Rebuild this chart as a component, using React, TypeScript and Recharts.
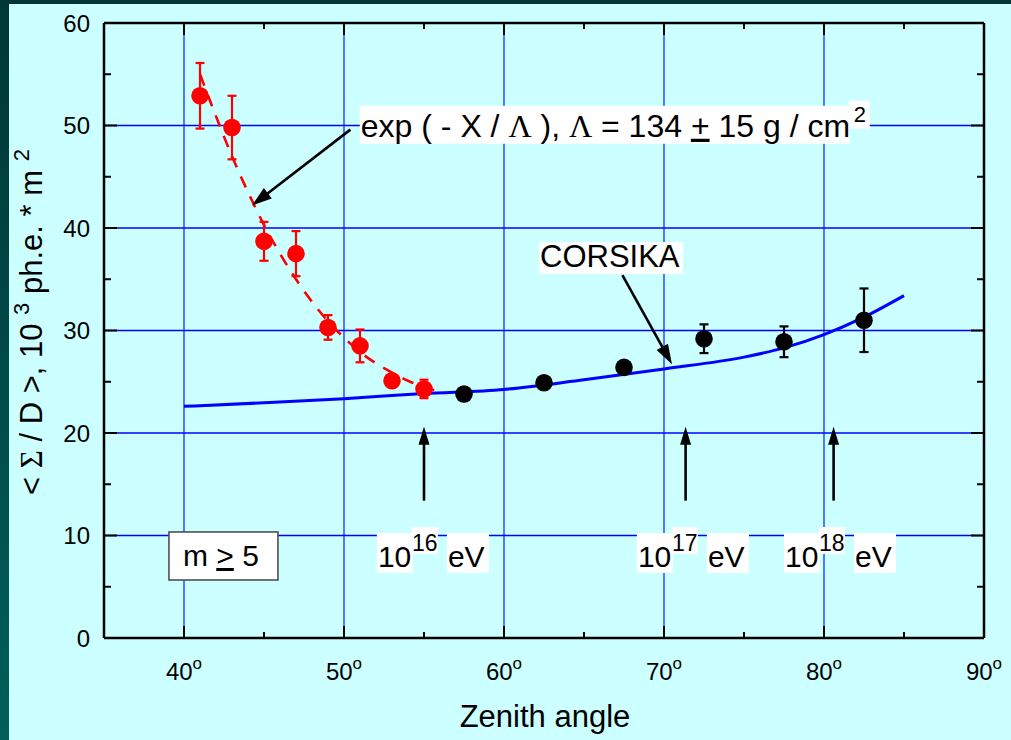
import React from 'react';
import {
  ComposedChart,
  XAxis,
  YAxis,
  Scatter,
  Line,
  ErrorBar,
  ReferenceLine,
  ReferenceDot,
} from 'recharts';

const FONT = '"Liberation Sans", Arial, Helvetica, sans-serif';
const SERIF = '"Liberation Serif", "Times New Roman", serif';

// ---- axes ----
const xTicks = [40, 45, 50, 55, 60, 65, 70, 75, 80, 85, 90];
const yTicks = [0, 5, 10, 15, 20, 25, 30, 35, 40, 45, 50, 55, 60];
const xGrid = [40, 50, 60, 70, 80];
const yGrid = [10, 20, 30, 40, 50];

// ---- measured data (red: exponential region) ----
const redX = [41, 43, 45, 47, 49, 51, 53, 55];
const redY = [52.9, 49.8, 38.7, 37.5, 30.3, 28.5, 25.1, 24.3];
const redErr = [3.2, 3.1, 1.9, 2.2, 1.2, 1.6, 0.5, 0.9];

// ---- measured data (black) ----
const blackX = [57.5, 62.5, 67.5, 72.5, 77.5, 82.5];
const blackY = [23.8, 24.9, 26.4, 29.2, 28.9, 31.0];
const blackErr = [0.3, 0.3, 0.4, 1.4, 1.5, 3.1];

// ---- exp(-X/Λ) fit (dashed) ----
const fitX = [41, 42, 43, 44, 45, 46, 47, 48, 49, 50, 51, 52, 53, 54, 55, 56];
const fitY = [55.0, 50.9, 47.0, 43.5, 40.3, 37.5, 35.0, 32.8, 30.9, 29.3, 27.9, 26.8, 25.9, 25.1, 24.5, 24.0];

// ---- CORSIKA curve ----
const corsX = [40, 45, 50, 55, 60, 65, 70, 75, 77.5, 80, 82.5, 85];
const corsY = [22.6, 22.95, 23.35, 23.85, 24.25, 25.2, 26.25, 27.4, 28.3, 29.6, 31.3, 33.4];

// ---- annotations (data coordinates) ----
const fitArrow = [{ x: 50.4, y: 49.6 }, { x: 44.25, y: 42.2 }];
const corsikaArrow = [{ x: 67.4, y: 35.4 }, { x: 70.5, y: 26.7 }];
const energyArrowX = [55.0, 71.35, 80.6];
const energyArrowY = [13.4, 20.6];
const energyLabelX = [52.12, 68.37, 77.56];
const energyLabelExp = ['16', '17', '18'];
const energyLabelY = 6.93;
const fitLabelPos = { x: 51.05, y: 48.9 };
const corsikaLabelPos = { x: 62.25, y: 36.2 };
const cutLabelPos = { x: 39.06, y: 5.66 };

const redData = redX.map((x, i) => ({ x, y: redY[i], err: redErr[i] }));
const blackData = blackX.map((x, i) => ({ x, y: blackY[i], err: blackErr[i] }));
const fitData = fitX.map((x, i) => ({ x, y: fitY[i] }));
const corsData = corsX.map((x, i) => ({ x, y: corsY[i] }));

const BottomTick = (props: any) => {
  const { x, y, payload } = props;
  const v = payload.value;
  const major = v % 10 === 0;
  return (
    <g>
      <line x1={x} x2={x} y1={y} y2={y - (major ? 12 : 6)} stroke="#000" strokeWidth={2} />
      {major && (
        <text x={x} y={y + 42} textAnchor="middle" fontSize={24} fontFamily={FONT} fill="#000">
          {v}
          <tspan dy={-11} fontSize={17}>o</tspan>
        </text>
      )}
    </g>
  );
};

const TopTick = (props: any) => {
  const { x, y, payload } = props;
  const major = payload.value % 10 === 0;
  return <line x1={x} x2={x} y1={y} y2={y + (major ? 12 : 6)} stroke="#000" strokeWidth={2} />;
};

const LeftTick = (props: any) => {
  const { x, y, payload } = props;
  const v = payload.value;
  const major = v % 10 === 0;
  return (
    <g>
      <line x1={x} x2={x + (major ? 13 : 7)} y1={y} y2={y} stroke="#000" strokeWidth={2} />
      {major && (
        <text x={x - 14} y={y + 8.5} textAnchor="end" fontSize={24} fontFamily={FONT} fill="#000">
          {v}
        </text>
      )}
    </g>
  );
};

const RightTick = (props: any) => {
  const { x, y, payload } = props;
  const major = payload.value % 10 === 0;
  return <line x1={x} x2={x - (major ? 13 : 7)} y1={y} y2={y} stroke="#000" strokeWidth={2} />;
};

const arrowShape = (head: number, half: number) => (p: any) => {
  const { x1, y1, x2, y2 } = p;
  const dx = x2 - x1;
  const dy = y2 - y1;
  const len = Math.hypot(dx, dy) || 1;
  const ux = dx / len;
  const uy = dy / len;
  const bx = x2 - ux * head;
  const by = y2 - uy * head;
  const px = -uy * half;
  const py = ux * half;
  return (
    <g>
      <line x1={x1} y1={y1} x2={bx + ux * 2} y2={by + uy * 2} stroke="#000" strokeWidth={2.6} />
      <polygon points={`${x2},${y2} ${bx + px},${by + py} ${bx - px},${by - py}`} fill="#000" />
    </g>
  );
};

const FitLabel = (p: any) => {
  const { cx, cy } = p;
  return (
    <g>
      <rect x={cx - 1} y={cy - 31} width={490} height={38} fill="#fff" />
      <rect x={cx + 488} y={cy - 36} width={21} height={28} fill="#fff" />
      <text x={cx} y={cy} fontSize={32} fontFamily={FONT} fill="#000">
        {'exp ( - X / '}
        <tspan fontFamily={SERIF}>Λ</tspan>
        {' ), '}
        <tspan fontFamily={SERIF}>Λ</tspan>
        {' = 134 '}
        <tspan style={{ textDecoration: 'underline' }}>+</tspan>
        {' 15 g / cm'}
      </text>
      <text x={cx + 493} y={cy - 15} fontSize={22} fontFamily={FONT} fill="#000">2</text>
    </g>
  );
};

const CorsikaLabel = (p: any) => {
  const { cx, cy } = p;
  return (
    <g>
      <rect x={cx - 1} y={cy - 25} width={144} height={32} fill="#fff" />
      <text x={cx} y={cy} fontSize={31} fontFamily={FONT} fill="#000">CORSIKA</text>
    </g>
  );
};

const CutLabel = (p: any) => {
  const { cx, cy } = p;
  return (
    <g>
      <rect x={cx} y={cy - 48} width={109} height={48} fill="#fff" stroke="#444" strokeWidth={1.5} />
      <text x={cx + 14} y={cy - 14} fontSize={30} fontFamily={FONT} fill="#000">
        {'m '}
        <tspan style={{ textDecoration: 'underline' }}>{'>'}</tspan>
        {' 5'}
      </text>
    </g>
  );
};

const energyLabel = (sup: string) => (p: any) => {
  const { cx, cy } = p;
  return (
    <g>
      <rect x={cx - 1} y={cy - 34} width={36} height={40} fill="#fff" />
      <rect x={cx + 34} y={cy - 40} width={26} height={27} fill="#fff" />
      <rect x={cx + 69} y={cy - 34} width={42} height={40} fill="#fff" />
      <text x={cx} y={cy} fontSize={30} fontFamily={FONT} fill="#000">10</text>
      <text x={cx + 34} y={cy - 16} fontSize={23} fontFamily={FONT} fill="#000">{sup}</text>
      <text x={cx + 70} y={cy} fontSize={30} fontFamily={FONT} fill="#000">eV</text>
    </g>
  );
};

const Dot = (color: string) => (p: any) => <circle cx={p.cx} cy={p.cy} r={8.8} fill={color} />;

export default function App() {
  return (
    <div
      style={{
        position: 'absolute',
        left: 0,
        top: 0,
        width: 1011,
        height: 740,
        overflow: 'hidden',
        background: 'linear-gradient(to bottom, #003636, #005f5a)',
      }}
    >
      <div
        style={{ position: 'absolute', left: 9, top: 4, width: 1002, height: 736, background: '#CCFFFF' }}
      />
      <div style={{ position: 'absolute', left: 0, top: 0 }}>
        <ComposedChart width={1011} height={740} margin={{ top: 22, right: 26, bottom: 101, left: 103 }}>
          <XAxis
            xAxisId={0}
            dataKey="x"
            type="number"
            domain={[35, 90]}
            ticks={xTicks}
            interval={0}
            height={1}
            tickSize={0}
            tickMargin={0}
            tickLine={false}
            tick={BottomTick}
            axisLine={{ stroke: '#000', strokeWidth: 2.5 }}
            allowDataOverflow
          />
          <XAxis
            xAxisId="top"
            orientation="top"
            dataKey="x"
            type="number"
            domain={[35, 90]}
            ticks={xTicks}
            interval={0}
            height={1}
            tickSize={0}
            tickMargin={0}
            tickLine={false}
            tick={TopTick}
            axisLine={{ stroke: '#000', strokeWidth: 2.5 }}
            allowDataOverflow
          />
          <YAxis
            yAxisId={0}
            dataKey="y"
            type="number"
            domain={[0, 60]}
            ticks={yTicks}
            interval={0}
            width={1}
            tickSize={0}
            tickMargin={0}
            tickLine={false}
            tick={LeftTick}
            axisLine={{ stroke: '#000', strokeWidth: 2.5 }}
            allowDataOverflow
          />
          <YAxis
            yAxisId="right"
            orientation="right"
            type="number"
            domain={[0, 60]}
            ticks={yTicks}
            interval={0}
            width={1}
            tickSize={0}
            tickMargin={0}
            tickLine={false}
            tick={RightTick}
            axisLine={{ stroke: '#000', strokeWidth: 2.5 }}
            allowDataOverflow
          />

          {xGrid.map((v) => (
            <ReferenceLine key={`gx${v}`} x={v} stroke="#1030ff" strokeWidth={1.3} />
          ))}
          {yGrid.map((v) => (
            <ReferenceLine key={`gy${v}`} y={v} stroke="#0000ff" strokeWidth={1.4} />
          ))}

          <Scatter data={redData} dataKey="y" fill="#ff0000" shape={Dot('#ff0000')} isAnimationActive={false}>
            <ErrorBar dataKey="err" direction="y" width={4.5} stroke="#ff0000" strokeWidth={2.2} isAnimationActive={false} />
          </Scatter>
          <Scatter data={blackData} dataKey="y" fill="#000" shape={Dot('#000000')} isAnimationActive={false}>
            <ErrorBar dataKey="err" direction="y" width={4.5} stroke="#000" strokeWidth={2.2} isAnimationActive={false} />
          </Scatter>

          <Line
            data={fitData}
            dataKey="y"
            type="monotone"
            stroke="#ff0000"
            strokeWidth={2.6}
            strokeDasharray="12 10"
            dot={false}
            activeDot={false}
            isAnimationActive={false}
          />
          <Line
            data={corsData}
            dataKey="y"
            type="monotone"
            stroke="#0000ff"
            strokeWidth={3}
            dot={false}
            activeDot={false}
            isAnimationActive={false}
          />

          <ReferenceLine segment={fitArrow} ifOverflow="visible" shape={arrowShape(20, 6.5)} />
          <ReferenceLine segment={corsikaArrow} ifOverflow="visible" shape={arrowShape(20, 6.5)} />
          {energyArrowX.map((x) => (
            <ReferenceLine
              key={`ea${x}`}
              segment={[{ x, y: energyArrowY[0] }, { x, y: energyArrowY[1] }]}
              ifOverflow="visible"
              shape={arrowShape(18, 5.5)}
            />
          ))}

          <ReferenceDot x={fitLabelPos.x} y={fitLabelPos.y} r={0} ifOverflow="visible" shape={FitLabel} />
          <ReferenceDot x={corsikaLabelPos.x} y={corsikaLabelPos.y} r={0} ifOverflow="visible" shape={CorsikaLabel} />
          <ReferenceDot x={cutLabelPos.x} y={cutLabelPos.y} r={0} ifOverflow="visible" shape={CutLabel} />
          {energyLabelX.map((x, i) => (
            <ReferenceDot
              key={`el${x}`}
              x={x}
              y={energyLabelY}
              r={0}
              ifOverflow="visible"
              shape={energyLabel(energyLabelExp[i])}
            />
          ))}
        </ComposedChart>
      </div>
      <svg
        width={1011}
        height={740}
        style={{ position: 'absolute', left: 0, top: 0, pointerEvents: 'none' }}
      >
        <text x={545} y={727} textAnchor="middle" fontSize={31} fontFamily={FONT} fill="#000">
          Zenith angle
        </text>
        <g transform="translate(42,322) rotate(-90)">
          <text x={0} y={0} textAnchor="middle" fontSize={31} fontFamily={FONT} fill="#000">
            {'< '}
            <tspan fontFamily={SERIF}>Σ</tspan>
            {' / D >, 10 '}
            <tspan dy={-13} fontSize={22}>3</tspan>
            <tspan dy={13}>{' ph.e. * m '}</tspan>
            <tspan dy={-13} fontSize={22}>2</tspan>
          </text>
        </g>
      </svg>
    </div>
  );
}
